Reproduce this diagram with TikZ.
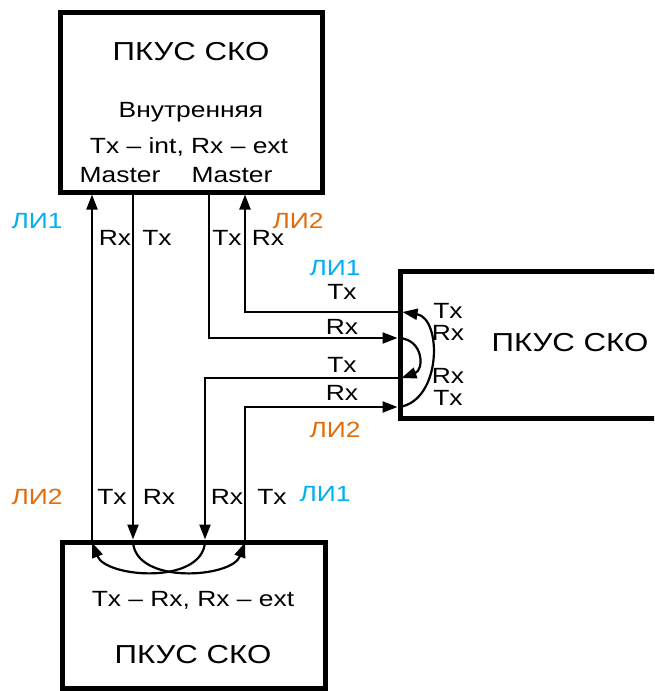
\documentclass[tikz,border=0pt]{standalone}
\usepackage{fontspec}
\setmainfont{Liberation Sans}[FakeStretch=1.2]
\usetikzlibrary{arrows.meta}
\definecolor{liblue}{HTML}{00B0F0}
\definecolor{liorange}{HTML}{E46C0A}
\tikzset{
    box/.style={draw, line width=5pt, rectangle, inner sep=0pt},
    wire/.style={line width=2.2pt},
    arr/.style={wire, -{Triangle[length=15pt,width=11pt]}},
    lbl/.style={inner sep=0pt, font=\fontsize{22}{25}\selectfont},
    ttl/.style={inner sep=0pt, font=\fontsize{26}{30}\selectfont}
}
\begin{document}
\begin{tikzpicture}[x=1pt, y=-1pt]
    \clip (0,0) rectangle (654,691);

    % blocks
    \node[box, minimum width=262pt, minimum height=180pt] (top) at (191,102) {};
    \node[box, minimum width=290pt, minimum height=147pt] (rgt) at (545,344.5) {};
    \node[box, minimum width=263pt, minimum height=146pt] (bot) at (193.5,615) {};

    \node[ttl] (topname) at (191,52) {ПКУС СКО};
    \node[lbl] (topmode) at (191,112) {Внутренняя};
    \node[lbl] (topline) at (189,147) {Tx – int, Rx – ext};
    \node[lbl] (mastera) at (120,175) {Master};
    \node[lbl] (masterb) at (232,175) {Master};
    \node[ttl] (rgtname) at (570,343) {ПКУС СКО};
    \node[lbl] (botline) at (193,600) {Tx – Rx, Rx – ext};
    \node[ttl] (botname) at (193,655) {ПКУС СКО};

    % wire positions
    \coordinate (xa) at (92,0);
    \coordinate (xb) at (133,0);
    \coordinate (xc) at (209,0);
    \coordinate (xd) at (245,0);
    \coordinate (xe) at (205,0);
    \coordinate (ya) at (0,312);
    \coordinate (yb) at (0,338);
    \coordinate (yc) at (0,378);
    \coordinate (yd) at (0,407);

    \draw[arr] (bot.north -| xa) -- (top.south -| xa);
    \draw[arr] (top.south -| xb) -- (bot.north -| xb);
    \draw[arr] (top.south -| xc) |- (rgt.west |- yb);
    \draw[arr] (rgt.west |- ya) -| (top.south -| xd);
    \draw[arr] (rgt.west |- yc) -| (bot.north -| xe);
    \draw[arr] (bot.north -| xd) |- (rgt.west |- yd);

    % loops inside the blocks
    \draw[arr] ([yshift=-2pt]bot.north -| xb) .. controls (135,585) and (232,578) .. ([yshift=-3pt]bot.north -| xd);
    \draw[arr] ([yshift=-2pt]bot.north -| xe) .. controls (203,585) and (106,578) .. ([yshift=-3pt]bot.north -| xa);
    \draw[arr] ([xshift=2pt]rgt.west |- yb) .. controls (424,340) and (424,370) .. ([xshift=4pt]rgt.west |- yc);
    \draw[arr] ([xshift=2pt]rgt.west |- yd) .. controls (442,400) and (442,318) .. ([xshift=5pt]rgt.west |- ya);

    % labels
    \node[lbl, text=liblue] (lia) at (37,221) {ЛИ1};
    \node[lbl] (la) at (115,238) {Rx};
    \node[lbl] (lb) at (157,238) {Tx};
    \node[lbl] (lc) at (227,238) {Tx};
    \node[lbl] (ld) at (268,238) {Rx};
    \node[lbl, text=liorange] (lib) at (298,221) {ЛИ2};

    \node[lbl, text=liblue] (lic) at (335,268) {ЛИ1};
    \node[lbl] (le) at (342,292) {Tx};
    \node[lbl] (lf) at (342,327) {Rx};
    \node[lbl] (lg) at (342,365) {Tx};
    \node[lbl] (lh) at (342,393) {Rx};
    \node[lbl, text=liorange] (lid) at (335,430) {ЛИ2};

    \node[lbl] (li) at (448,311) {Tx};
    \node[lbl] (lj) at (448,333) {Rx};
    \node[lbl] (lk) at (448,376) {Rx};
    \node[lbl] (ll) at (448,398) {Tx};

    \node[lbl, text=liorange] (lie) at (37,497) {ЛИ2};
    \node[lbl] (lm) at (112,497) {Tx};
    \node[lbl] (ln) at (159,497) {Rx};
    \node[lbl] (lo) at (227,497) {Rx};
    \node[lbl] (lp) at (272,497) {Tx};
    \node[lbl, text=liblue] (lif) at (325,494) {ЛИ1};
\end{tikzpicture}
\end{document}
